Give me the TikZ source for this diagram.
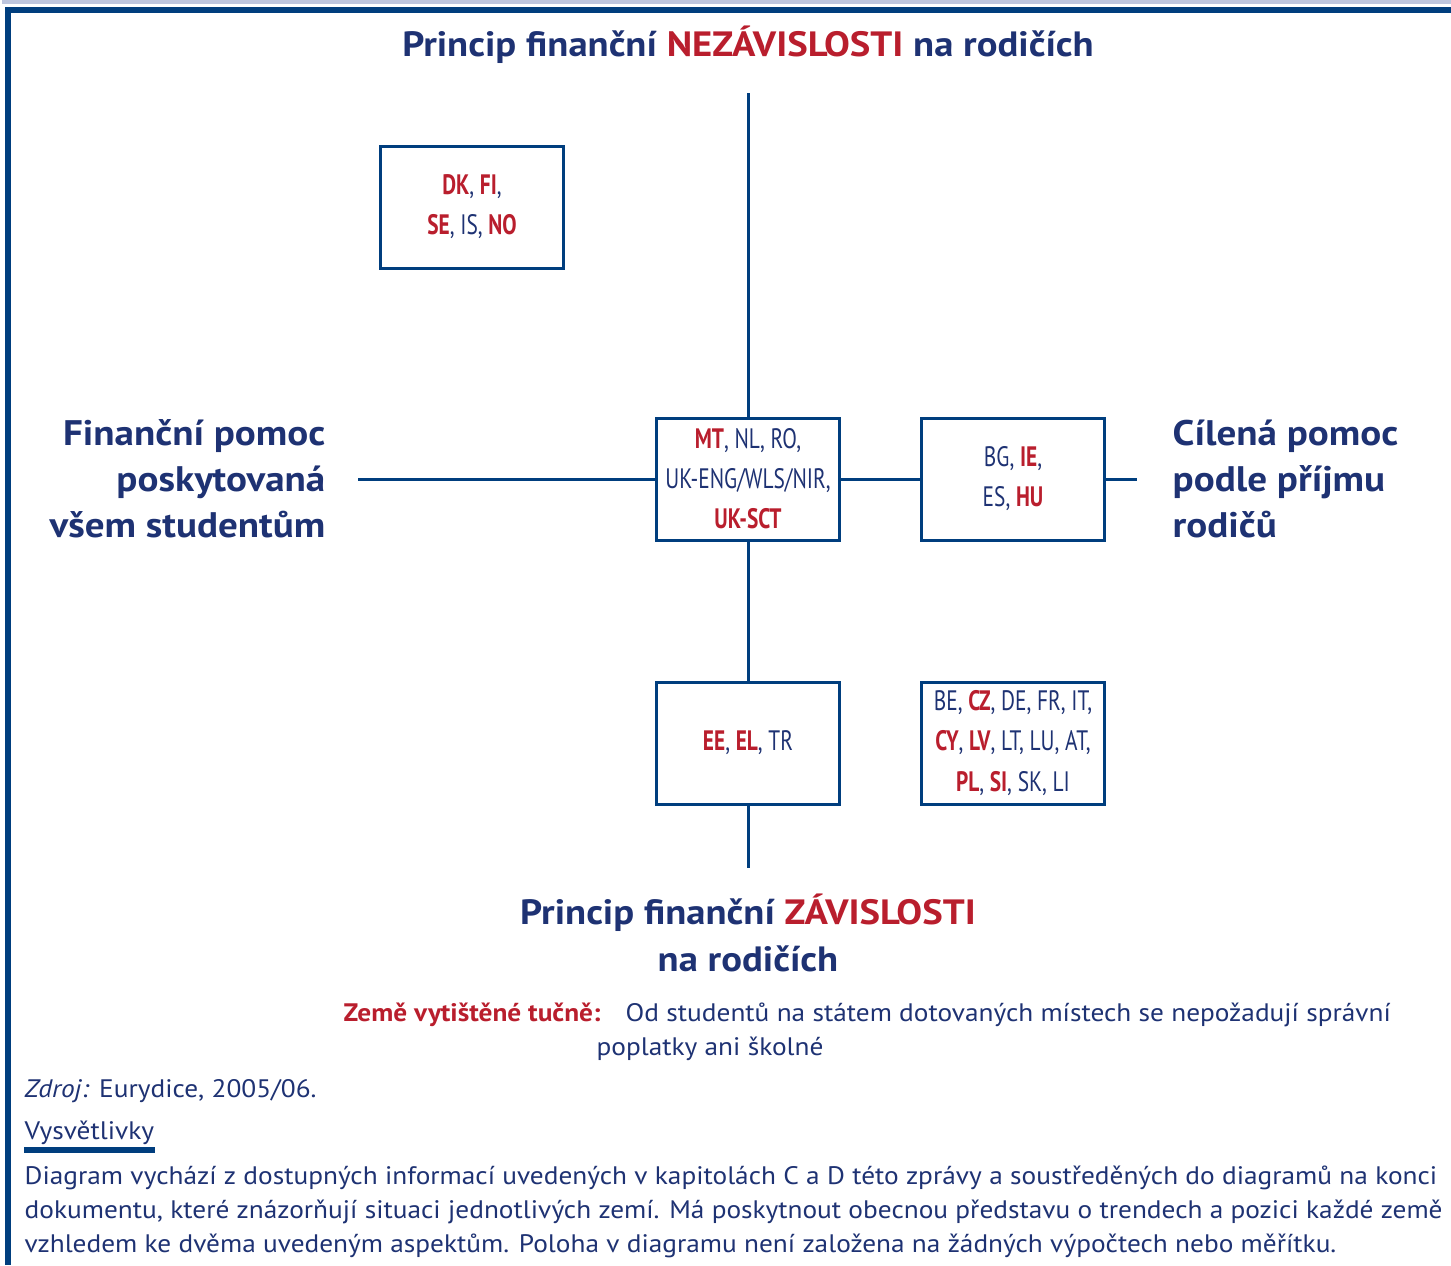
\documentclass[tikz,border=0pt]{standalone}
\usepackage{fontspec}
\setmainfont{PT Sans}
\newfontfamily\condfont[FakeStretch=0.76]{PT Sans}
\newfontfamily\widefont[FakeStretch=1.1]{PT Sans}
\newfontfamily\notefont[FakeStretch=1.08]{PT Sans}
\usetikzlibrary{positioning}

\definecolor{framenavy}{RGB}{0, 62, 126}
\definecolor{textnavy}{RGB}{30, 50, 115}
\definecolor{boldred}{RGB}{185, 30, 45}
\definecolor{stripegray}{RGB}{190, 198, 222}

\newcommand{\boldcc}[1]{\textcolor{boldred}{\bfseries #1}}

\tikzset{
  countrybox/.style={draw=framenavy, line width=0.3mm, minimum width=18.3mm, minimum height=12.2mm,
    align=center, inner sep=0pt, text=textnavy, font=\condfont\fontsize{8}{11.4}\selectfont},
  axisline/.style={draw=framenavy, line width=0.3mm},
  axislabel/.style={inner sep=0pt, text=textnavy, font=\widefont\bfseries\fontsize{10.1}{13.1}\selectfont},
  axistitle/.style={inner sep=0pt, text=textnavy, font=\widefont\bfseries\fontsize{10}{13.3}\selectfont},
  notetext/.style={inner sep=0pt, anchor=west, text=textnavy, font=\notefont\fontsize{7.2}{9.7}\selectfont}
}

\begin{document}
\begin{tikzpicture}[x=0.1mm, y=-0.1mm]
  \useasboundingbox (0,0) rectangle (1451,1265);

  % frame
  \fill[stripegray] (2,0) rectangle (1451,3.5);
  \fill[framenavy] (5,7) rectangle (1451,13);
  \fill[framenavy] (5,7) rectangle (11,1265);

  % axis titles
  \node[axistitle] (toptitle) at (748,45) {Princip finanční \textcolor{boldred}{NEZÁVISLOSTI} na rodičích};
  \node[axistitle, align=center] (bottitle) at (748,933) {Princip finanční \textcolor{boldred}{ZÁVISLOSTI}\\ na rodičích};
  \node[axislabel, anchor=east, align=right] (alllabel) at (326,479) {Finanční pomoc\\ poskytovaná\\ všem studentům};
  \node[axislabel, anchor=west, align=left] (incomelabel) at (1172,479) {Cílená pomoc\\ podle příjmu\\ rodičů};

  % country boxes
  \node[countrybox] (nordic) at (472,207) {\boldcc{DK}, \boldcc{FI},\\ \boldcc{SE}, IS, \boldcc{NO}};
  \node[countrybox] (mid) at (748,479) {\boldcc{MT}, NL, RO,\\ UK-ENG/WLS/NIR,\\ \boldcc{UK-SCT}};
  \node[countrybox] (incomeb) at (1013,479) {BG, \boldcc{IE},\\ ES, \boldcc{HU}};
  \node[countrybox] (south) at (748,743) {\boldcc{EE}, \boldcc{EL}, TR};
  \node[countrybox] (cont) at (1013,743) {BE, \boldcc{CZ}, DE, FR, IT,\\ \boldcc{CY}, \boldcc{LV}, LT, LU, AT,\\ \boldcc{PL}, \boldcc{SI}, SK, LI};

  % axes
  \coordinate (topend) at (748,93);
  \coordinate (botend) at (748,868);
  \coordinate (leftend) at (358,479);
  \coordinate (rightend) at (1137,479);
  \draw[axisline] (topend) -- (mid);
  \draw[axisline] (mid) -- (south);
  \draw[axisline] (south) -- (botend);
  \draw[axisline] (leftend) -- (mid);
  \draw[axisline] (mid) -- (incomeb);
  \draw[axisline] (incomeb) -- (rightend);

  % notes
  \node[notetext] (legend1) at (343,1015) {\textcolor{boldred}{\bfseries Země vytištěné tučně:}\quad Od studentů na státem dotovaných místech se nepožadují správní};
  \node[notetext] (legend2) at (596,1049) {poplatky ani školné};
  \node[notetext] (source) at (24,1091) {\textit{Zdroj:} Eurydice, 2005/06.};
  \node[notetext] (explhead) at (24,1133) {Vysvětlivky};
  \draw[framenavy, line width=0.6mm] ([yshift=-0.4mm]explhead.south west) -- ([yshift=-0.4mm]explhead.south east);
  \node[notetext, align=left] (expltext) at (24,1212) {Diagram vychází z dostupných informací uvedených v kapitolách C a D této zprávy a soustředěných do diagramů na konci\\
    dokumentu, které znázorňují situaci jednotlivých zemí. Má poskytnout obecnou představu o trendech a pozici každé země\\
    vzhledem ke dvěma uvedeným aspektům. Poloha v diagramu není založena na žádných výpočtech nebo měřítku.};
\end{tikzpicture}
\end{document}
